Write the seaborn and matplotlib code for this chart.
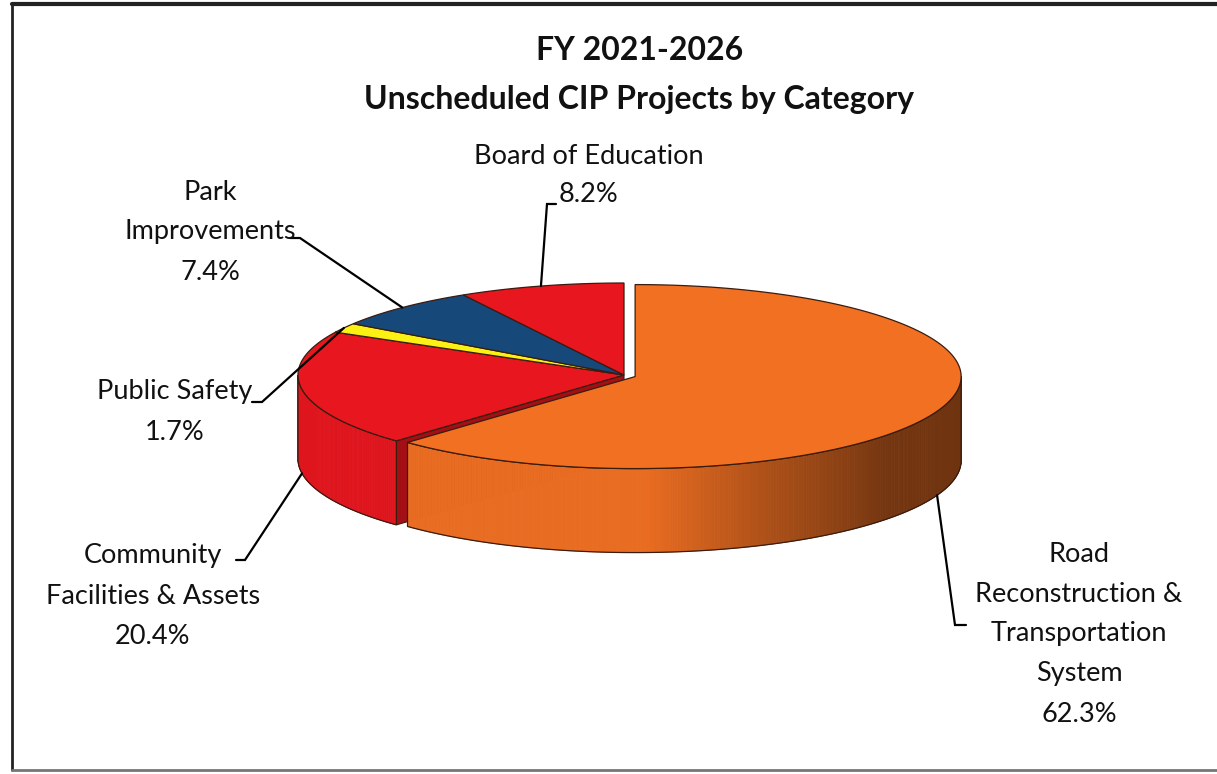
import numpy as np
import matplotlib
matplotlib.use("Agg")
import matplotlib.pyplot as plt
from matplotlib.patches import Polygon
import seaborn as sns

# ---- data -------------------------------------------------------------
categories = ["Road Reconstruction & Transportation System",
              "Community Facilities & Assets",
              "Public Safety",
              "Park Improvements",
              "Board of Education"]
label_lines = [["Road", "Reconstruction &", "Transportation", "System"],
               ["Community", "Facilities & Assets"],
               ["Public Safety"],
               ["Park", "Improvements"],
               ["Board of Education"]]
shares = [62.3, 20.4, 1.7, 7.4, 8.2]
slice_colors = ["#F27022", "#E8161E", "#FAF014", "#16487A", "#E8161E"]
explode_px = [12, 0, 0, 0, 0]

title_lines = ["FY 2021-2026", "Unscheduled CIP Projects by Category"]

# ---- layout -----------------------------------------------------------
W, H = 1217, 774
CX, CY, RX, RY, DEPTH = 624, 375, 326, 92, 84

# label centre x, first-line y, line step; leader elbow and end points
label_pos = [(1079, 554, 40), (153, 556, 40), (175, 391, 41), (210, 192, 40), (589, 157, 38)]
leader_elbow = [((955, 625), (966, 625)),
                ((245, 560), (236, 560)),
                ((262, 402), (252, 402)),
                ((300, 238), (290, 238)),
                ((547, 204), (556, 204))]

sns.set_theme(style="white")
plt.rcParams["font.family"] = ["Lato", "DejaVu Sans"]
palette = sns.color_palette(slice_colors)

fig = plt.figure(figsize=(W / 100, H / 100), dpi=100)
ax = fig.add_axes([0, 0, 1, 1])
ax.set_xlim(0, W)
ax.set_ylim(H, 0)
ax.axis("off")


def pt(theta, ox=0.0, oy=0.0, drop=0.0):
    t = np.radians(theta)
    return CX + ox + RX * np.sin(t), CY + oy - RY * np.cos(t) + drop


def shade(rgb, f):
    return tuple(np.clip(np.array(rgb) * f, 0, 1))


def wall_factor(theta):
    return np.interp(theta, [90, 130, 157, 178, 360], [0.45, 0.48, 0.72, 0.96, 0.96])


def offset(i, mid):
    e = explode_px[i]
    return e * np.sin(np.radians(mid)), -e * np.cos(np.radians(mid)) * 0.35


edge_col = "#3a1c10"
n = len(shares)
total = sum(shares)
bounds = np.concatenate([[0], np.cumsum(shares)]) / total * 360.0

cut_faces, walls, tops = [], [], []
for i, (a0, a1) in enumerate(zip(bounds[:-1], bounds[1:])):
    mid = 0.5 * (a0 + a1)
    ox, oy = offset(i, mid)
    base = palette[i]
    c = (CX + ox, CY + oy)

    # radial cut faces: only exposed next to a separated slice, and facing the viewer
    for ang, sign, nb in ((a0, -1, (i - 1) % n), (a1, 1, (i + 1) % n)):
        exposed = explode_px[i] > 0 or explode_px[nb] > 0
        nv = sign * np.sin(np.radians(ang))
        if exposed and nv > 1e-3:
            p = pt(ang, ox, oy)
            poly = [c, p, (p[0], p[1] + DEPTH), (c[0], c[1] + DEPTH)]
            cut_faces.append((poly, shade(base, 0.7)))

    # outer curved wall, front half only
    w0, w1 = max(a0, 90), min(a1, 270)
    if w1 > w0:
        th = np.linspace(w0, w1, max(int((w1 - w0) * 2), 2))
        pieces = []
        for t0, t1 in zip(th[:-1], th[1:]):
            p0, p1 = pt(t0, ox, oy), pt(t1, ox, oy)
            quad = [p0, p1, (p1[0], p1[1] + DEPTH), (p0[0], p0[1] + DEPTH)]
            f = wall_factor(0.5 * (t0 + t1))
            pieces.append((quad, shade(base, f)))
        top_arc = [pt(t, ox, oy) for t in th]
        bot_arc = [pt(t, ox, oy, DEPTH) for t in th[::-1]]
        walls.append((pieces, top_arc + bot_arc))

    th = np.linspace(a0, a1, max(int((a1 - a0) * 2), 2))
    tops.append(([c] + [pt(t, ox, oy) for t in th], base))

for poly, col in cut_faces:
    ax.add_patch(Polygon(poly, closed=True, facecolor=col, edgecolor=edge_col, lw=0.8))
for pieces, outline in walls:
    for quad, col in pieces:
        ax.add_patch(Polygon(quad, closed=True, facecolor=col, edgecolor=col, lw=0.6))
    ax.add_patch(Polygon(outline, closed=True, fill=False, edgecolor=edge_col, lw=0.9))
for poly, col in tops:
    ax.add_patch(Polygon(poly, closed=True, facecolor=col, edgecolor=edge_col, lw=0.9))

# ---- labels and leader lines -------------------------------------------
for i, (a0, a1) in enumerate(zip(bounds[:-1], bounds[1:])):
    mid = 0.5 * (a0 + a1)
    ox, oy = offset(i, mid)
    drop = DEPTH if 90 < mid < 270 else 0
    anchor = pt(mid, ox, oy, drop)
    (ex, ey), (tx, ty) = leader_elbow[i]
    ax.plot([anchor[0], ex, tx], [anchor[1], ey, ty], color="black", lw=1.6,
            solid_joinstyle="miter")
    lx, ly, step = label_pos[i]
    lines = label_lines[i] + [f"{shares[i]:.1f}%"]
    for k, line in enumerate(lines):
        ax.text(lx, ly + k * step, line, ha="center", va="center",
                fontsize=19.5, color="#111111")

ax.text(640, 50, title_lines[0], ha="center", va="center", fontsize=23,
        fontweight="bold", color="#111111")
ax.text(639, 100, title_lines[1], ha="center", va="center", fontsize=23,
        fontweight="bold", color="#111111")

# chart frame
ax.plot([12, 12], [4, 770], color="#222222", lw=2)
ax.plot([12, W], [4, 4], color="#222222", lw=3)
ax.plot([12, W], [770, 770], color="#777777", lw=2)

fig.savefig("out.png", dpi=100)
